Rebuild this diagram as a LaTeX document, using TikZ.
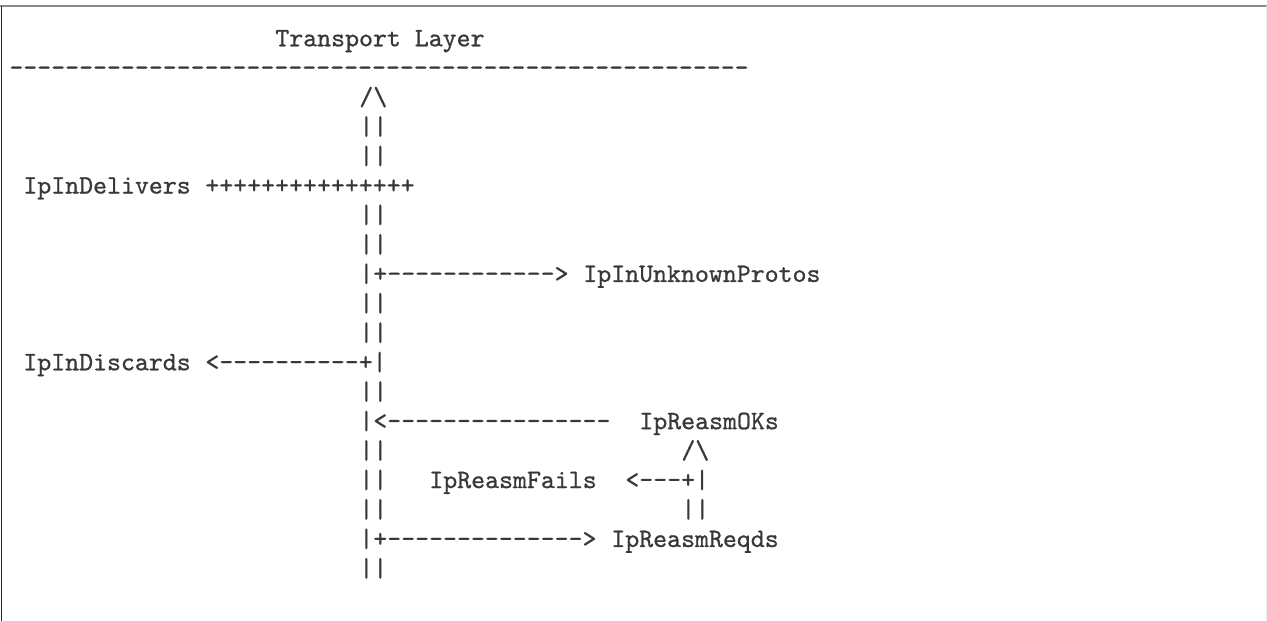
\documentclass[tikz,border=0pt]{standalone}
\usepackage{fontspec}
\setmonofont{lmmono10-regular.otf}[FakeBold=0.8]
\usepackage{tikz}
\usetikzlibrary{positioning}
\usepackage{xcolor}

\tikzset{
  ascii/.style={font=\ttfamily\fontsize{15.12pt}{18pt}\selectfont,text=black!78,inner sep=0pt,anchor=base west},
}

\begin{document}
\begin{tikzpicture}[x=0.28cm,y=-0.589cm]
\useasboundingbox (-0.643,-1.572) rectangle (89.857,19.514);
% frame
\draw[black!45,line width=1.1pt] (-0.643,-1.368) -- (89.857,-1.368);
\draw[black!85,line width=1.1pt] (-0.536,-1.368) -- (-0.536,19.514);
\draw[black!8,line width=0.8pt] (89.8,-1.368) -- (89.8,19.514);
% layer
\node[ascii] (title) at (19,0) {Transport Layer};
\node[ascii] (layer) at (0,1) {-----------------------------------------------------};
\node[ascii] (up) at (25,2) {/\textbackslash};
\foreach \r in {3,4,6,7,9,10,12,14,15,16,18}
  \node[ascii] (trunk\r) at (25,\r) {||};
% counters
\node[ascii] (deliv) at (1,5) {IpInDelivers};
\node[ascii] (delivline) at (14,5) {+++++++++++++++};
\node[ascii] (unkarrow) at (25,8) {|+------------>};
\node[ascii] (unknown) at (41,8) {IpInUnknownProtos};
\node[ascii] (discards) at (1,11) {IpInDiscards};
\node[ascii] (discarrow) at (14,11) {<----------+|};
\node[ascii] (okarrow) at (25,13) {|<----------------};
\node[ascii] (reasmok) at (45,13) {IpReasmOKs};
\node[ascii] (okup) at (48,14) {/\textbackslash};
\node[ascii] (reasmfail) at (30,15) {IpReasmFails};
\node[ascii] (failarrow) at (44,15) {<---+|};
\node[ascii] (reqtrunk) at (48,16) {||};
\node[ascii] (reqarrow) at (25,17) {|+-------------->};
\node[ascii] (reasmreq) at (43,17) {IpReasmReqds};
\end{tikzpicture}
\end{document}
